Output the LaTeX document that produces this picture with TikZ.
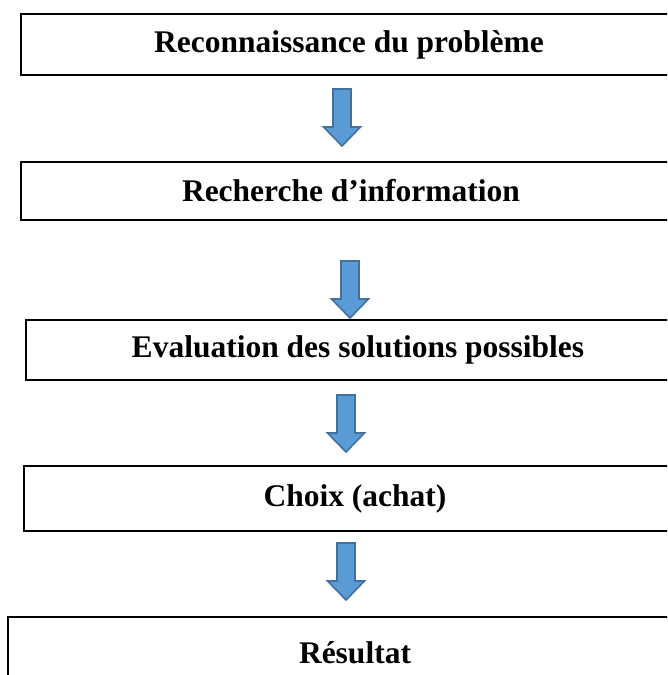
\documentclass[tikz,border=0pt]{standalone}
\usepackage{fontspec}
\setmainfont{Liberation Serif}
\definecolor{arrowfill}{HTML}{5B9BD5}
\definecolor{arrowline}{HTML}{41719C}
\tikzset{
  stagebox/.style={draw=black, line width=2.6pt, rectangle, inner sep=0pt,
    font=\fontsize{31.5}{37}\selectfont\bfseries, text=black},
  blockarrow/.pic={
    \draw[fill=arrowfill, draw=arrowline, line width=1.6pt, line join=miter]
      (-9,0) -- (9,0) -- (9,38) -- (18.5,38) -- (0,57) -- (-18.5,38) -- (-9,38) -- cycle;
  }
}
\begin{document}
\begin{tikzpicture}[x=1pt,y=-1pt]
\clip (0,0) rectangle (667,675);
\fill[white] (0,0) rectangle (667,675);
\node[stagebox, minimum width=656pt, minimum height=61pt] (b1) at (349,44.5) {Reconnaissance du problème};
\node[stagebox, minimum width=660pt, minimum height=58pt] (b2) at (351,191) {Recherche d’information};
\node[stagebox, minimum width=664pt, minimum height=60pt] (b3) at (358,350) {Evaluation des solutions possibles};
\node[stagebox, minimum width=662pt, minimum height=65pt] (b4) at (355,498.5) {Choix (achat)};
\node[stagebox, minimum width=694pt, minimum height=72pt] (b5) at (355,653) {Résultat};
\pic (a1) at (342,89) {blockarrow};
\pic (a2) at (350,261) {blockarrow};
\pic (a3) at (346,395) {blockarrow};
\pic (a4) at (346,543) {blockarrow};
\end{tikzpicture}
\end{document}
